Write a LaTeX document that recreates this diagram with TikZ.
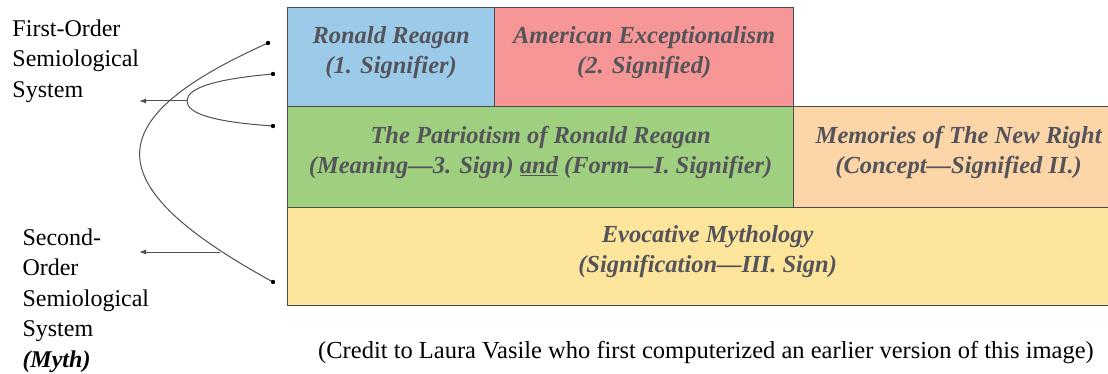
\documentclass[tikz,border=0pt]{standalone}
\usepackage{fontspec}
\setmainfont{Liberation Serif}
\usetikzlibrary{calc,arrows.meta}

\definecolor{sigblue}{RGB}{156,203,233}
\definecolor{sigred}{RGB}{246,150,150}
\definecolor{siggreen}{RGB}{158,208,127}
\definecolor{sigorange}{RGB}{252,214,168}
\definecolor{sigyellow}{RGB}{253,229,155}
\definecolor{boxtext}{RGB}{84,84,90}
\definecolor{wire}{RGB}{80,80,80}

\tikzset{
	box/.style={draw=black!70, line width=1.3pt, anchor=north west, inner sep=0pt,
		align=center, text=boxtext, font=\fontsize{24.5}{30}\selectfont\bfseries\itshape,
		execute at end node={\rule[-15pt]{0pt}{0pt}}},
	side/.style={anchor=north west, inner sep=0pt, align=left,
		font=\fontsize{24}{30.5}\selectfont}
}

\begin{document}
\begin{tikzpicture}[x=1pt,y=-1pt,line width=1pt,>={Latex[length=7pt,width=5pt]}]
\useasboundingbox (0,0) rectangle (1108,374);

\coordinate (d1) at (268,43);
\coordinate (d2) at (273,74);
\coordinate (d3) at (273,126);
\coordinate (d4) at (273,282);
\coordinate (fork) at (187,101);
\coordinate (cut) at (220,252);
\coordinate (t1) at (139,101);
\coordinate (t2) at (139,252);

%% les cases
\node[box, fill=sigblue, minimum width=207pt, minimum height=99pt] (signifier) at (287,7)
	{Ronald Reagan\\(1. Signifier)};
\node[box, fill=sigred, minimum width=299pt, minimum height=99pt] (signified) at (494,7)
	{American Exceptionalism\\(2. Signified)};
\node[box, fill=siggreen, minimum width=506pt, minimum height=101pt] (sign) at (287,106)
	{The Patriotism of Ronald Reagan\\(Meaning---3. Sign) \underline{and} (Form---I. Signifier)};
\node[box, fill=sigorange, minimum width=330pt, minimum height=101pt] (concept) at (793,106)
	{Memories of The New Right\\(Concept---Signified II.)\hspace{10pt}};
\node[box, fill=sigyellow, minimum width=840pt, minimum height=98pt] (myth) at (287,207)
	{Evocative Mythology\\(Signification---III. Sign)\hspace{10pt}};

%% accolades
\draw [wire] (d1) .. controls (96,120) and (96,185) .. (d4);
\draw [wire] (d2) .. controls (215,79) and (187,88) .. (fork)
	.. controls (187,114) and (215,122) .. (d3);
\foreach \d in {d1,d2,d3,d4}{
	\fill [black] (\d) circle (2.2);
}

% fleches
\draw [wire, ->] (fork)--(t1);
\draw [wire, ->] (cut)--(t2);

%% textes
\node[side] (first) at (12,19) {First-Order\\Semiological\\System};
\node[side] (second) at (22,228) {Second-\\Order\\Semiological\\System\\\textbf{\textit{(Myth)}}};

\node[font=\fontsize{24.5}{30}\selectfont, anchor=base] (credit) at (706,358)
	{(Credit to Laura Vasile who first computerized an earlier version of this image)};

\end{tikzpicture}
\end{document}
